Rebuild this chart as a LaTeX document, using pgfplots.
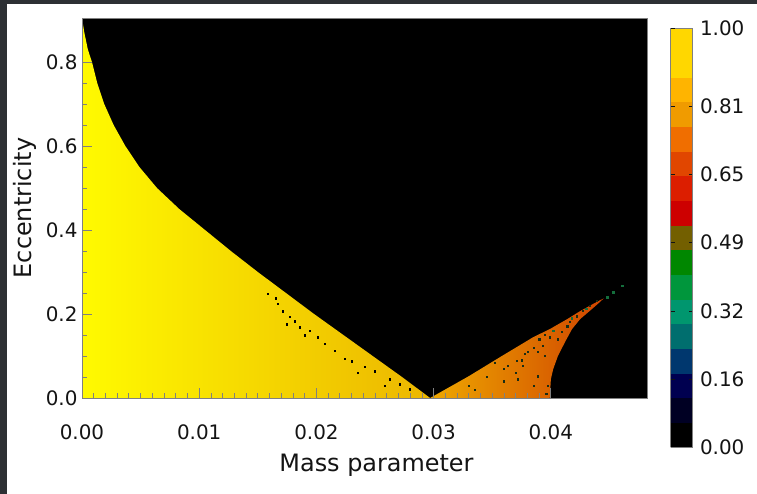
\documentclass[border=0pt]{standalone}
\usepackage{pgfplots}
\pgfplotsset{compat=1.18}
\usepackage{fontspec}
\setmainfont{DejaVu Sans}
\definecolor{axgray}{RGB}{128,128,128}
\definecolor{framegray}{RGB}{45,48,52}
\definecolor{ylleft}{RGB}{255,250,0}
\definecolor{ylright}{RGB}{236,182,0}
\definecolor{orleft}{RGB}{238,168,0}
\definecolor{orright}{RGB}{208,68,0}
\definecolor{dotdark}{RGB}{25,45,20}
\definecolor{dotgreen}{RGB}{20,110,60}
\definecolor{txt}{RGB}{20,20,20}

\begin{document}
\begin{tikzpicture}
\fill[framegray] (0,0) rectangle (757bp,494bp);
\fill[white] (7bp,0) rectangle (757bp,490bp);
\useasboundingbox (0,0) rectangle (757bp,494bp);
\begin{axis}[
  at={(82bp,96bp)}, anchor=south west,
  scale only axis, width=565bp, height=380bp,
  xmin=0, xmax=0.0482, ymin=0, ymax=0.905,
  axis on top,
  axis background/.style={fill=black},
  axis line style={axgray, line width=0.9bp},
  every tick/.style={axgray, line width=0.8bp},
  scaled x ticks=false,
  xtick={0,0.01,0.02,0.03,0.04},
  xticklabels={0.00,0.01,0.02,0.03,0.04},
  minor x tick num=9,
  ytick={0,0.2,0.4,0.6,0.8},
  yticklabels={0.0,0.2,0.4,0.6,0.8},
  minor y tick num=3,
  xtick pos=bottom, ytick pos=left,
  tick align=inside,
  major tick length=10bp, minor tick length=5bp,
  ticklabel style={font=\fontsize{20}{20}\selectfont, text=txt},
  xticklabel style={yshift=-23bp},
  yticklabel style={xshift=-1bp},
  xlabel={Mass parameter},
  ylabel={Eccentricity},
  label style={font=\fontsize{24}{24}\selectfont, text=txt},
  xlabel style={yshift=-8bp, xshift=12bp},
  ylabel style={yshift=2bp},
  /pgf/number format/assume math mode=true,
  colormap={bands}{rgb255=(0,0,0) rgb255=(0,0,35) rgb255=(0,0,80) rgb255=(0,55,110)
    rgb255=(0,110,110) rgb255=(0,150,110) rgb255=(0,150,60) rgb255=(0,135,0)
    rgb255=(115,95,0) rgb255=(205,0,0) rgb255=(220,30,0) rgb255=(225,70,0)
    rgb255=(240,110,0) rgb255=(240,155,0) rgb255=(255,180,0) rgb255=(255,215,0)
    rgb255=(255,215,0)},
  colormap access=piecewise constant,
  point meta min=0, point meta max=1,
  colorbar,
  colorbar style={
    at={(parent axis.north east)}, anchor=north west,
    xshift=15bp, yshift=-10bp,
    scale only axis, width=22bp, height=419bp,
    ytick={0,0.1625,0.325,0.4875,0.65,0.8125,1},
    yticklabels={0.00,0.16,0.32,0.49,0.65,0.81,1.00},
    axis line style={axgray, line width=0.8bp},
    major tick length=4bp,
    ytick style={txt, line width=0.6bp},
    yticklabel style={font=\fontsize{20}{20}\selectfont, text=txt, xshift=4bp},
    /pgf/number format/assume math mode=true,
  },
]
% stable (yellow) region
\addplot[draw=none, left color=ylleft, right color=ylright] coordinates {
  (0,0) (0,0.905) (0.0002,0.87) (0.0005,0.83) (0.00085,0.80) (0.0013,0.75)
  (0.0019,0.70) (0.0027,0.65) (0.0037,0.60) (0.0049,0.55) (0.0064,0.50)
  (0.0083,0.45) (0.0105,0.40) (0.0127,0.35) (0.0150,0.30) (0.0174,0.25)
  (0.0198,0.20) (0.0223,0.15) (0.0248,0.10) (0.0273,0.05) (0.0297,0)
} -- cycle;
% stable (orange) region
\addplot[draw=none, left color=orleft, right color=orright] coordinates {
  (0.0297,0) (0.0330,0.052) (0.0357,0.098) (0.0385,0.145) (0.0399,0.164)
  (0.0414,0.188) (0.0425,0.207) (0.0436,0.224) (0.0442,0.233) (0.0445,0.237)
  (0.0440,0.224) (0.0433,0.207) (0.0425,0.188) (0.0418,0.164) (0.0412,0.133)
  (0.0406,0.100) (0.0402,0.069) (0.0400,0.045) (0.0399,0)
} -- cycle;
% scattered chaotic points
\addplot[only marks, mark=square*, mark size=0.7bp, black] coordinates {
  (0.01586,0.248) (0.01671,0.224) (0.01714,0.207) (0.01773,0.193) (0.01816,0.183)
  (0.01858,0.169) (0.01748,0.176) (0.01944,0.160) (0.02012,0.145) (0.02072,0.129)
  (0.02157,0.112) (0.02242,0.093) (0.02302,0.088) (0.02413,0.074) (0.02498,0.064)
  (0.02626,0.045) (0.02711,0.033) (0.02796,0.021) (0.01650,0.238) (0.01900,0.150)
  (0.02350,0.060) (0.02580,0.030)
};
\addplot[only marks, mark=square*, mark size=0.6bp, dotdark] coordinates {
  (0.0330,0.030) (0.0345,0.050) (0.0360,0.070) (0.0375,0.090) (0.0380,0.110)
  (0.0385,0.120) (0.0390,0.140) (0.0395,0.150) (0.0335,0.020) (0.0360,0.040)
  (0.0370,0.060) (0.0385,0.030) (0.0396,0.010) (0.0352,0.085) (0.0378,0.105)
  (0.0363,0.077) (0.0371,0.088) (0.0376,0.077) (0.0389,0.110) (0.0395,0.100)
  (0.0393,0.124) (0.0399,0.145) (0.0406,0.140) (0.0409,0.157) (0.0414,0.171)
  (0.0416,0.181) (0.0422,0.195) (0.0427,0.207) (0.0433,0.219) (0.0439,0.231)
  (0.0372,0.045) (0.0389,0.052) (0.0397,0.029)
};
\addplot[only marks, mark=square*, mark size=0.7bp, dotgreen] coordinates {
  (0.0448,0.240) (0.0453,0.252) (0.0461,0.267) (0.0418,0.190) (0.0402,0.160)
  (0.0430,0.212)
};
\end{axis}
\end{tikzpicture}
\end{document}
